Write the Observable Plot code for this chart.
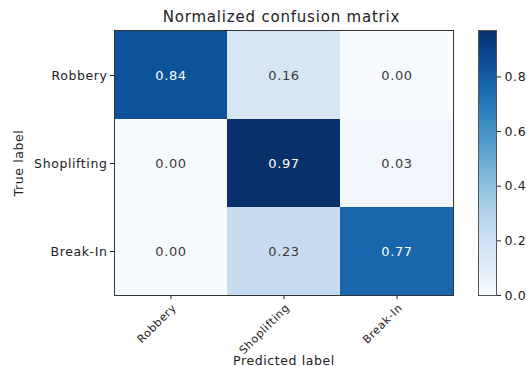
<!DOCTYPE html>
<html>
<head>
<meta charset="utf-8">
<script src="https://cdn.jsdelivr.net/npm/d3@7"></script>
<script src="https://cdn.jsdelivr.net/npm/@observablehq/plot@0.6"></script>
<style>
  html, body { margin: 0; padding: 0; background: #fff; }
  #wrap { position: relative; width: 527px; height: 366px; overflow: hidden; font-family: "DejaVu Sans", sans-serif; }
  #title { position: absolute; left: 108px; width: 347px; top: 8px; text-align: center; font-size: 15px; letter-spacing: 0.8px; color: #222; }
  .abs { position: absolute; top: 0; }
</style>
</head>
<body>
<div id="wrap">
  <div id="title">Normalized confusion matrix</div>
</div>
<script>
const classes = ["Robbery", "Shoplifting", "Break-In"];
const robberyRow = [0.84, 0.16, 0.00];
const shopliftingRow = [0.00, 0.97, 0.03];
const breakInRow = [0.00, 0.23, 0.77];
const colorbarTicks = [0.0, 0.2, 0.4, 0.6, 0.8];
const colorMax = 0.97;
const xLabel = "Predicted label";
const yLabel = "True label";

const rows = [robberyRow, shopliftingRow, breakInRow];
const cells = [];
rows.forEach((r, i) => r.forEach((v, j) => cells.push({ truth: classes[i], pred: classes[j], v })));

const color = { type: "linear", scheme: "blues", domain: [0, colorMax] };
const font = "DejaVu Sans, sans-serif";
const baseStyle = { fontFamily: font, fontSize: "12.5px", letterSpacing: "0.6px", color: "#222", background: "transparent" };

const main = Plot.plot({
  width: 527,
  height: 366,
  marginLeft: 114,
  marginTop: 30,
  marginRight: 74,
  marginBottom: 71,
  style: baseStyle,
  x: { domain: classes, padding: 0, tickFormat: () => "", tickSize: 4, label: xLabel, labelAnchor: "center", labelOffset: 69 },
  y: { domain: classes, padding: 0, label: yLabel, labelAnchor: "center", labelOffset: 100, tickSize: 4, tickPadding: 3 },
  color,
  marks: [
    Plot.cell(cells, { x: "pred", y: "truth", fill: "v", inset: 0 }),
    Plot.text(cells, { x: "pred", y: "truth", text: d => d.v.toFixed(2), fill: d => d.v > colorMax / 2 ? "#ffffff" : "#3a3a3a", fontSize: 13 }),
    Plot.frame({ stroke: "#333", strokeWidth: 1 }),
    Plot.text(classes, { x: d => d, text: d => d, frameAnchor: "bottom", rotate: -45, textAnchor: "end", dx: 6, dy: 13, fontSize: 11, fill: "#222" })
  ]
});
main.classList.add("abs");
main.style.left = "0px";
document.getElementById("wrap").appendChild(main);

const bar = Plot.plot({
  width: 49,
  height: 366,
  marginLeft: 0,
  marginRight: 31,
  marginTop: 30,
  marginBottom: 71,
  style: baseStyle,
  x: { domain: [0, 1], axis: null },
  y: { domain: [0, colorMax], axis: "right", ticks: colorbarTicks, tickFormat: d3.format(".1f"), tickSize: 4, tickPadding: 4, label: null },
  color,
  marks: [
    Plot.raster({ x1: 0, x2: 1, y1: 0, y2: colorMax, width: 2, height: 256, fill: (x, y) => y }),
    Plot.frame({ stroke: "#555", strokeWidth: 1 })
  ]
});
bar.classList.add("abs");
bar.style.left = "478px";
document.getElementById("wrap").appendChild(bar);
</script>
</body>
</html>
